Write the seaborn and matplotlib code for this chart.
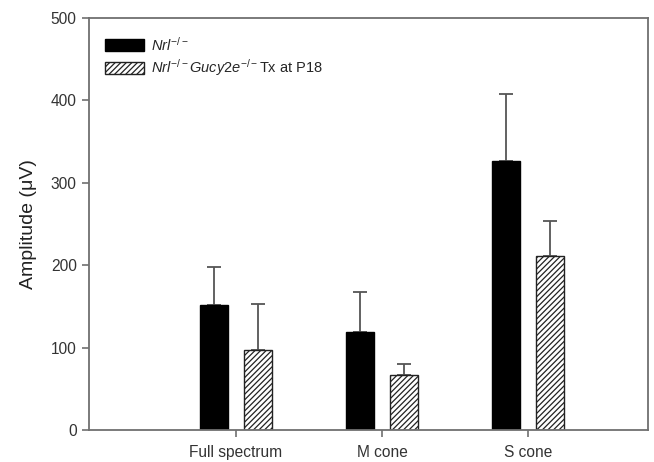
import numpy as np
import pandas as pd
import matplotlib
matplotlib.use("Agg")
import matplotlib.pyplot as plt
import seaborn as sns

categories = ["Full spectrum", "M cone", "S cone"]
groups = ["Nrl", "Nrl Gucy2e Tx"]
nrl_values = [152, 119, 327]
nrl_err = [46, 49, 81]
tx_values = [97, 67, 211]
tx_err = [56, 13, 43]
y_ticks = [0, 100, 200, 300, 400, 500]
legend_labels = [r"$\mathit{Nrl}^{\mathit{-/-}}$",
                 r"$\mathit{Nrl}^{\mathit{-/-}}\mathit{Gucy2e}^{\mathit{-/-}}$Tx at P18"]

sns.set_theme(style="white")
plt.rcParams["font.family"] = ["Liberation Sans", "DejaVu Sans"]
plt.rcParams["mathtext.fontset"] = "custom"
plt.rcParams["mathtext.it"] = "Liberation Sans:italic"
plt.rcParams["mathtext.rm"] = "Liberation Sans"
plt.rcParams["hatch.linewidth"] = 0.9

df = pd.DataFrame({
    "category": categories * 2,
    "group": [groups[0]] * 3 + [groups[1]] * 3,
    "value": nrl_values + tx_values,
})

fig = plt.figure(figsize=(6.54, 4.62), dpi=100)
ax = fig.add_axes([88.5 / 654, 1 - 430 / 462, (648 - 88.5) / 654, (430 - 18) / 462])

sns.barplot(data=df, x="category", y="value", hue="group", order=categories,
            hue_order=groups, palette=["black", "white"], width=0.6, gap=0.37,
            errorbar=None, legend=False, ax=ax, saturation=1)

bar_containers = list(ax.containers)
errs = [nrl_err, tx_err]
vals = [nrl_values, tx_values]
for ci, cont in enumerate(bar_containers):
    xs = []
    for p in cont.patches:
        xs.append(p.get_x() + p.get_width() / 2)
        p.set_zorder(2)
        if ci == 0:
            p.set_edgecolor("black")
        else:
            p.set_facecolor("white")
            p.set_edgecolor("#222222")
            p.set_hatch("//////")
        p.set_linewidth(1.0)
    ax.errorbar(xs, vals[ci], yerr=[np.zeros(len(xs)), errs[ci]], fmt="none",
                ecolor="#555555", elinewidth=1.3, capsize=4.7, capthick=1.3, zorder=1)

ax.set_xlim(-1.01, 2.82)
ax.set_ylim(0, 500)
ax.set_yticks(y_ticks)
ax.set_xlabel("")
ax.set_ylabel("Amplitude (μV)", fontsize=14, color="#222222", labelpad=10)
ax.tick_params(axis="both", which="both", direction="out", length=5, width=1.2,
               color="#707070", labelsize=11.2, labelcolor="#333333",
               bottom=True, left=True, top=False, right=False)
ax.tick_params(axis="x", pad=6)
ax.tick_params(axis="y", pad=3.5)
for s in ax.spines.values():
    s.set_color("#707070")
    s.set_linewidth(1.3)
    s.set_visible(True)

ax.legend([bar_containers[0], bar_containers[1]], legend_labels, loc="upper left",
          bbox_to_anchor=(0.0295, 0.958), frameon=False, fontsize=10.5,
          handlelength=2.7, handleheight=0.95, handletextpad=0.45,
          labelspacing=0.28, borderpad=0, borderaxespad=0)

fig.savefig("out.png", dpi=100)
